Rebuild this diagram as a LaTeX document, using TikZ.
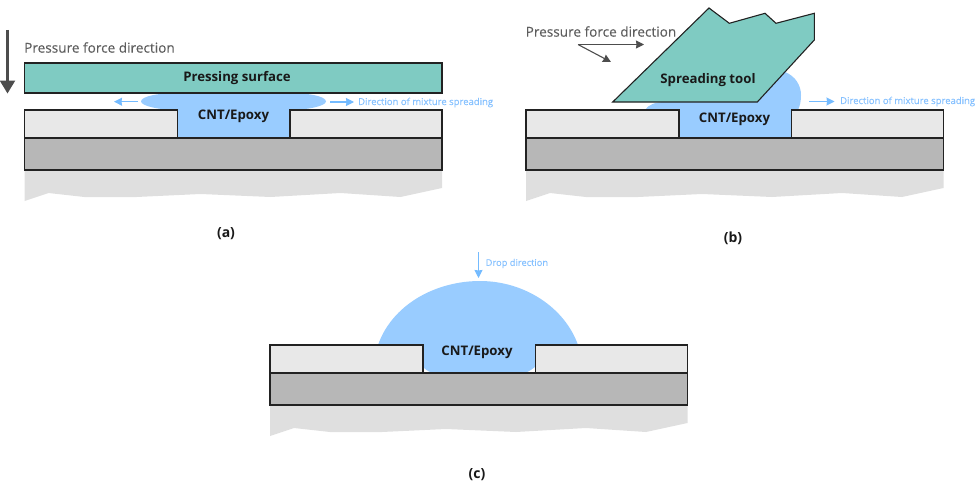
\documentclass[tikz,border=0pt]{standalone}
\usepackage{fontspec}
\setmainfont{Open Sans}
\newfontfamily\medfont[FakeBold=0.25]{Open Sans}
\usetikzlibrary{arrows.meta}
\definecolor{lightlayer}{HTML}{E8E8E8}
\definecolor{midlayer}{HTML}{B7B7B7}
\definecolor{ground}{HTML}{DFDFDF}
\definecolor{teal}{HTML}{7FCBC2}
\definecolor{mix}{HTML}{99CCFF}
\definecolor{mixarrow}{HTML}{74BBFF}
\definecolor{mixtext}{HTML}{86C1FF}
\definecolor{forcegray}{HTML}{4D4D4D}
\definecolor{forcetext}{HTML}{5E5E5E}
\definecolor{outline}{HTML}{222222}
\tikzset{
  x=1pt,y=-1pt,
  layer/.style={draw=outline,line width=1.2pt,line join=miter},
  blob/.style={fill=mix,draw=none},
  bluearrow/.style={draw=mixarrow,line width=1.1pt,-{Stealth[length=8pt,width=8pt,inset=.5pt]}},
  grayarrow/.style={draw=forcegray,line width=1.1pt,-{Stealth[length=8pt,width=8pt,inset=.5pt]}},
  biglabel/.style={inner sep=0pt,text=black!90,font=\fontsize{13.2}{15}\selectfont\bfseries},
  caption/.style={inner sep=0pt,text=black!90,font=\fontsize{14}{16}\selectfont\bfseries},
  forcelabel/.style={inner sep=0pt,anchor=west,text=forcetext,font=\fontsize{13.6}{16}\medfont},
  mixlabel/.style={inner sep=0pt,anchor=west,text=mixtext,font=\fontsize{9.5}{11}\medfont},
  pics/base/.style={code={
    \fill[ground] (0,171) -- (417.5,171) -- (417.5,188) -- (376,197) -- (316,193) -- (246,197) -- (176,194) -- (112,197) -- (60,197) -- (24,193) -- (0,201) -- cycle;
    \draw[layer,fill=midlayer] (0,138) rectangle (417.5,170);
    \draw[layer,fill=lightlayer] (0,110) rectangle (153,138);
    \draw[layer,fill=lightlayer] (265.5,110) rectangle (417.5,138);
  }}
}
\begin{document}
\begin{tikzpicture}
\useasboundingbox (0,0) rectangle (976,487);
% ---------- panel (a)
\fill[blob] (141,101.5) .. controls (141,96) and (160,93) .. (177,93) -- (290,93) .. controls (307,93) and (326,96) .. (326,101.5) .. controls (326,106) and (307,110) .. (290,110) -- (290,138) -- (177,138) -- (177,110) .. controls (160,110) and (141,106) .. (141,101.5) -- cycle;
\pic at (24.5,0) {base};
\draw[layer,fill=teal] (24.5,63) rectangle (442,93);
\node[biglabel] (surf) at (237,78.5) {Pressing surface};
\node[biglabel] (epoxyA) at (233.5,116.5) {CNT/Epoxy};
\node[forcelabel] (forceA) at (24,47.5) {Pressure force direction};
\node[mixlabel] (spreadA) at (358,102.5) {Direction of mixture spreading};
\node[caption] (capA) at (226,233.5) {(a)};
\coordinate (bigS) at (7.5,30);
\coordinate (bigE) at (7.5,93.5);
\draw[forcegray,line width=2.4pt,-{Triangle[length=13pt,width=15pt]}] (bigS) -- (bigE);
\coordinate (aLs) at (138,101.7);
\coordinate (aLe) at (114,101.7);
\coordinate (aRs) at (330,102);
\coordinate (aRe) at (354,102);
\draw[bluearrow] (aLs) -- (aLe);
\draw[bluearrow] (aRs) -- (aRe);
% ---------- panel (b)
\fill[blob] (645,110) .. controls (648,105) and (655,102) .. (665,102) -- (770,80) -- (785,72) .. controls (795,76) and (801,85) .. (801,95) .. controls (801,101) and (800,106) .. (798,110) -- (791,110) -- (791,138) -- (678.5,138) -- (678.5,110) -- cycle;
\pic at (526,0) {base};
\draw[layer,line width=1.1pt,fill=teal] (709,8) -- (729.3,23.3) -- (765,13.3) -- (776,23.3) -- (814.3,13.3) -- (814.3,40) -- (757.3,102) -- (612.7,102) -- cycle;
\node[biglabel] (tool) at (708,80.5) {Spreading tool};
\node[biglabel] (epoxyB) at (734.5,119) {CNT/Epoxy};
\node[forcelabel] (forceB) at (525.5,31.5) {Pressure force direction};
\node[mixlabel] (spreadB) at (840,101.5) {Direction of mixture spreading};
\node[caption] (capB) at (733,238.5) {(b)};
\coordinate (fS) at (578,44.5);
\coordinate (fE1) at (644,44.5);
\coordinate (fE2) at (611,62);
\draw[grayarrow] (fS) -- (fE1);
\draw[grayarrow] (fS) -- (fE2);
\coordinate (bRs) at (809,101.5);
\coordinate (bRe) at (834.5,101.5);
\draw[bluearrow] (bRs) -- (bRe);
% ---------- panel (c)
\fill[blob] (378,345) .. controls (392,305) and (435,281) .. (480,281) .. controls (525,281) and (565,308) .. (578,345) -- (535,345) -- (535,367) .. controls (530,371) and (526,373) .. (523,373) -- (435,373) .. controls (431,373) and (427,371) .. (423,367) -- (423,345) -- cycle;
\pic at (270,235) {base};
\node[biglabel] (epoxyC) at (477,352) {CNT/Epoxy};
\node[mixlabel,font=\fontsize{9.3}{11}\medfont] (drop) at (485.5,263.5) {Drop direction};
\node[caption] (capC) at (477,474.5) {(c)};
\coordinate (dS) at (478.5,252);
\coordinate (dE) at (478.5,278);
\draw[bluearrow] (dS) -- (dE);
\end{tikzpicture}
\end{document}
